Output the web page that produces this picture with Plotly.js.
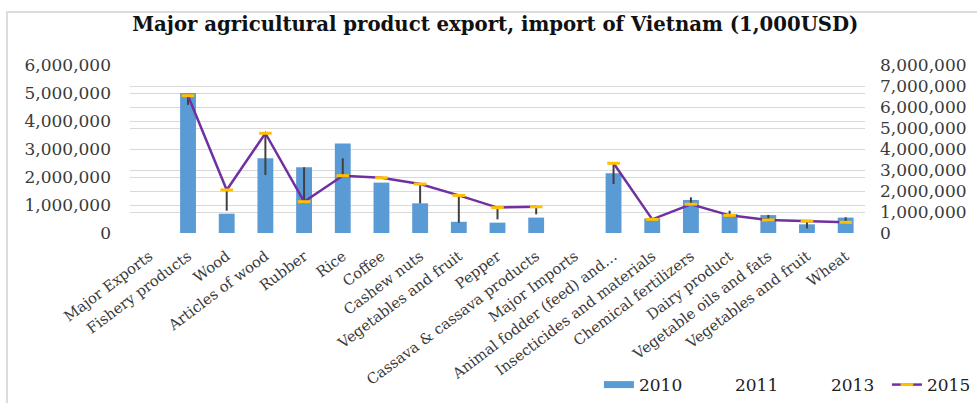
<!DOCTYPE html>
<html>
<head>
<meta charset="utf-8">
<script src="https://cdn.plot.ly/plotly-3.0.1.min.js"></script>
<style>html,body{margin:0;padding:0;background:#fff;}#chart{width:977px;height:403px;}</style>
</head>
<body>
<div id="chart"></div>
<script>
const categories = ["Major Exports", "Fishery products", "Wood", "Articles of wood", "Rubber", "Rice", "Coffee", "Cashew nuts", "Vegetables and fruit", "Pepper", "Cassava & cassava products", "Major Imports", "Animal fodder (feed) and…", "Insecticides and materials", "Chemical fertilizers", "Dairy product", "Vegetable oils and fats", "Vegetables and fruit", "Wheat"];
const values2010 = [null, 5000000, 690000, 2670000, 2350000, 3200000, 1800000, 1060000, 400000, 370000, 550000, null, 2130000, 520000, 1180000, 680000, 640000, 310000, 550000];
const values2011 = [null, 6100000, 1060000, 2760000, 3130000, 3560000, 2630000, 1410000, 490000, 650000, 890000, null, 2330000, 620000, 1700000, 1060000, 860000, 220000, 750000];
const values2013 = [null, 6300000, 1500000, 3600000, 2500000, 3100000, 2650000, 1900000, 1100000, 900000, 1050000, null, 2900000, 640000, 1500000, 950000, 750000, 400000, 620000];
const values2015 = [null, 6540000, 2050000, 4750000, 1490000, 2730000, 2630000, 2330000, 1790000, 1210000, 1250000, null, 3320000, 650000, 1370000, 840000, 620000, 570000, 510000];

const idx = categories.map((c, i) => i);
const font = "DejaVu Serif, Liberation Serif, serif";
const txt = "#3a3a3a";
const barColor = "#5B9BD5";

// high-low lines across the line series (2011, 2013, 2015)
const hlX = [], hlY = [];
idx.forEach(i => {
  const vals = [values2011[i], values2013[i], values2015[i]].filter(v => v != null);
  if (vals.length) {
    hlX.push(i, i, null);
    hlY.push(Math.min(...vals), Math.max(...vals), null);
  }
});

const traces = [
  {type: "scatter", mode: "lines", name: "2010", x: [null], y: [null], line: {color: barColor, width: 7}, yaxis: "y", hoverinfo: "skip"},
  {type: "bar", name: "2010", showlegend: false, x: idx, y: values2010, marker: {color: barColor}, width: 0.41, yaxis: "y"},
  {type: "scatter", mode: "lines", name: "2011", x: idx, y: values2011, line: {color: "rgba(0,0,0,0)", width: 0}, yaxis: "y2"},
  {type: "scatter", mode: "lines", name: "2013", x: idx, y: values2013, line: {color: "rgba(0,0,0,0)", width: 0}, yaxis: "y2"},
  {type: "scatter", mode: "lines", name: "hl", showlegend: false, x: hlX, y: hlY, line: {color: "#404040", width: 2}, yaxis: "y2", hoverinfo: "skip"},
  {type: "scatter", mode: "lines+markers", name: "2015", x: idx, y: values2015, connectgaps: false,
   line: {color: "#7030A0", width: 2.5},
   marker: {symbol: "line-ew", size: 9, color: "#FFC000", line: {color: "#FFC000", width: 3}}, yaxis: "y2"}
];

const layout = {
  width: 977, height: 403,
  paper_bgcolor: "#fff", plot_bgcolor: "#fff",
  margin: {l: 130, r: 112, t: 65, b: 170, autoexpand: false},
  font: {family: font, color: txt, size: 15},
  title: {text: "<b>Major agricultural product export, import of Vietnam (1,000USD)</b>", x: 0.507, xanchor: "center", y: 0.94, yanchor: "middle",
          font: {family: "DejaVu Serif, serif", size: 19.7, color: "#111"}},
  xaxis: {tickmode: "array", tickvals: idx, ticktext: categories, tickangle: -37, range: [-0.5, 18.5], automargin: false,
          showgrid: false, zeroline: false, showline: false, ticks: "", ticklabelstandoff: 11, tickfont: {size: 14.7, family: font, color: txt}},
  yaxis: {range: [0, 6000000], dtick: 1000000, tickformat: ",d", showgrid: true, gridcolor: "#d9d9d9", gridwidth: 1, automargin: false,
          zeroline: false, showline: false, ticks: "", ticklabelstandoff: 18, tickfont: {size: 17, family: font, color: txt}},
  yaxis2: {range: [0, 8000000], dtick: 1000000, tickformat: ",d", overlaying: "y", side: "right", showgrid: true, gridcolor: "#d9d9d9", gridwidth: 1, automargin: false,
           zeroline: false, showline: false, ticks: "", ticklabelstandoff: 14, tickfont: {size: 17, family: font, color: txt}},
  showlegend: true,
  legend: {orientation: "h", x: 0.638, xanchor: "left", y: -0.905, yanchor: "middle", font: {size: 17, family: font, color: "#222"}, traceorder: "normal", bgcolor: "rgba(0,0,0,0)", entrywidth: 51},
  shapes: [{type: "rect", xref: "paper", yref: "paper", x0: (7 - 130) / 735, x1: (990 - 130) / 735, y0: (233 - 415) / 168, y1: (233 - 12) / 168,
            line: {color: "#dcdcdc", width: 2}, fillcolor: "rgba(0,0,0,0)", layer: "below"}]
};

Plotly.newPlot("chart", traces, layout, {displayModeBar: false, staticPlot: true});
</script>
</body>
</html>
